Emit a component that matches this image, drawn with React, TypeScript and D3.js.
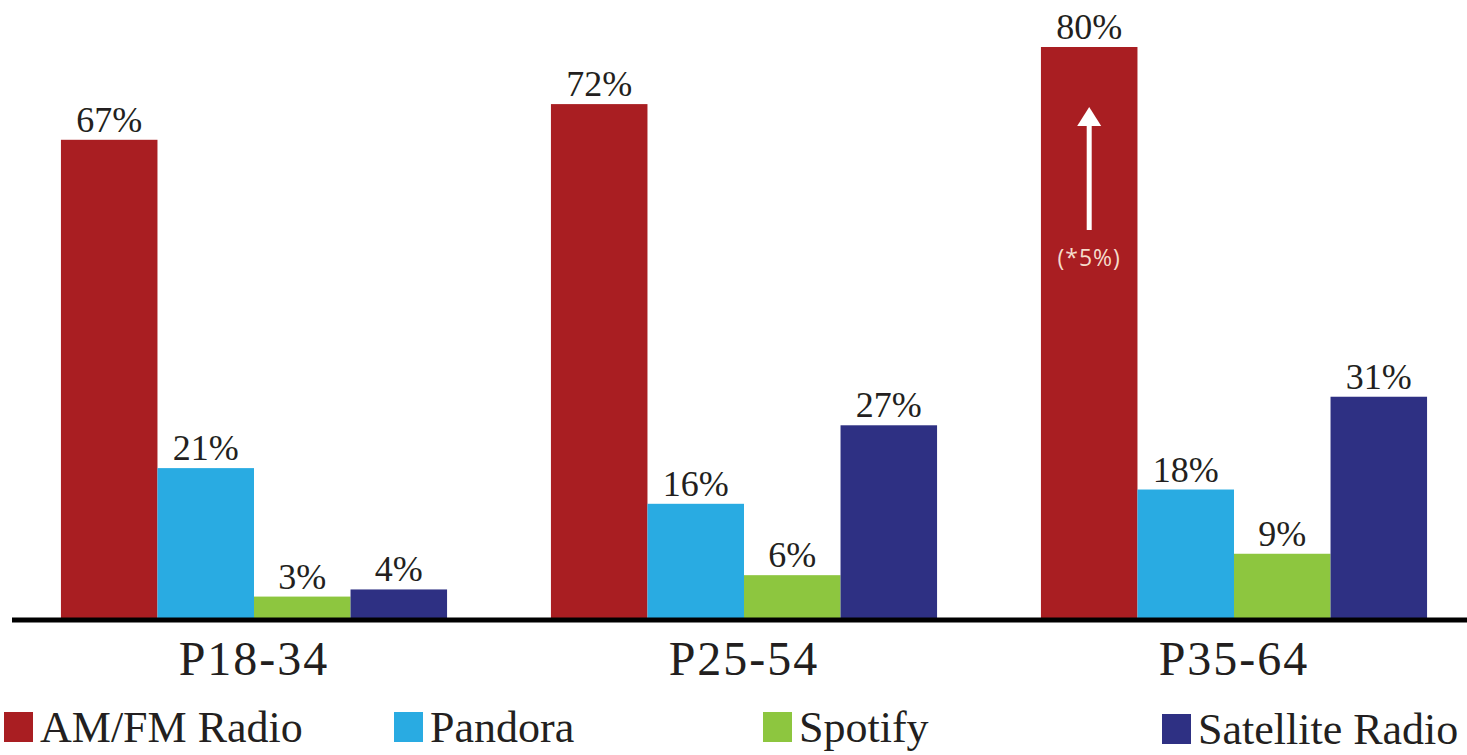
import * as d3 from "d3";
import { FC, useEffect, useRef } from "react";

const WIDTH = 1467;
const HEIGHT = 755;
const BASELINE = 618;

const groups = ["P18-34", "P25-54", "P35-64"];
const series = ["AM/FM Radio", "Pandora", "Spotify", "Satellite Radio"];
const colors = ["#a91e22", "#29abe2", "#8dc63f", "#2e3083"];
const amfm = [67, 72, 80];
const pandora = [21, 16, 18];
const spotify = [3, 6, 9];
const satellite = [4, 27, 31];
const legendX = [4, 394, 763, 1162];
const legendDrop = [0, 0, 0, 2];

const SERIF = "'Liberation Serif', 'DejaVu Serif', serif";

const App: FC = () => {
  const ref = useRef<SVGSVGElement | null>(null);

  useEffect(() => {
    if (!ref.current) return;
    const svg = d3.select(ref.current);
    svg.selectAll("*").remove();

    const values = [amfm, pandora, spotify, satellite];
    const rows = groups.map((g, gi) => ({
      group: g,
      bars: series.map((s, si) => ({ series: s, si, value: values[si][gi] })),
    }));

    const x0 = d3
      .scaleBand<string>()
      .domain(groups)
      .range([9, 1479])
      .paddingInner(0.212)
      .paddingOuter(0.106);
    const x1 = d3
      .scaleBand<string>()
      .domain(series)
      .range([0, x0.bandwidth()]);
    const y = d3.scaleLinear().domain([0, 80]).range([BASELINE, 47]);

    const g = svg
      .selectAll("g.group")
      .data(rows)
      .enter()
      .append("g")
      .attr("class", "group")
      .attr("transform", (d) => `translate(${x0(d.group)}, 0)`);

    const bar = g
      .selectAll("g.bar")
      .data((d) => d.bars)
      .enter()
      .append("g")
      .attr("class", "bar");

    bar
      .append("rect")
      .attr("x", (d) => x1(d.series) || 0)
      .attr("width", x1.bandwidth())
      .attr("y", (d) => y(d.value))
      .attr("height", (d) => BASELINE - y(d.value))
      .attr("fill", (d) => colors[d.si]);

    bar
      .append("text")
      .text((d) => `${d.value}%`)
      .attr("x", (d) => (x1(d.series) || 0) + x1.bandwidth() / 2)
      .attr("y", (d) => y(d.value) - 8)
      .attr("text-anchor", "middle")
      .attr("font-family", SERIF)
      .attr("font-size", 36)
      .attr("fill", "#231f20");

    // arrow annotation inside the tallest bar
    const last = groups[2];
    const ax = (x0(last) || 0) + (x1(series[0]) || 0) + x1.bandwidth() / 2;
    const arrow = svg.append("g").attr("fill", "#fff");
    arrow
      .append("rect")
      .attr("x", ax - 2.5)
      .attr("y", 118)
      .attr("width", 5)
      .attr("height", 112);
    arrow
      .append("path")
      .attr("d", `M${ax},${y(80) + 60} L${ax - 12},${y(80) + 79} L${ax + 12},${y(80) + 79} Z`);
    svg
      .append("text")
      .text("(*5%)")
      .attr("x", ax)
      .attr("y", 266)
      .attr("text-anchor", "middle")
      .attr("font-family", "'Open Sans', sans-serif")
      .attr("font-size", 23)
      .attr("letter-spacing", 1)
      .attr("fill", "#f5dccb");

    // baseline
    svg
      .append("line")
      .attr("x1", 12)
      .attr("x2", WIDTH)
      .attr("y1", BASELINE + 2)
      .attr("y2", BASELINE + 2)
      .attr("stroke", "#000")
      .attr("stroke-width", 5);

    // category labels
    svg
      .selectAll("text.cat")
      .data(groups)
      .enter()
      .append("text")
      .attr("class", "cat")
      .text((d) => d)
      .attr("x", (d) => (x0(d) || 0) + x0.bandwidth() / 2)
      .attr("y", 675)
      .attr("text-anchor", "middle")
      .attr("font-family", SERIF)
      .attr("font-size", 48)
      .attr("letter-spacing", 2)
      .attr("fill", "#231f20");

    // legend
    const leg = svg
      .selectAll("g.legend")
      .data(series)
      .enter()
      .append("g")
      .attr("class", "legend")
      .attr("transform", (_, i) => `translate(${legendX[i]}, ${712 + legendDrop[i]})`);
    leg
      .append("rect")
      .attr("width", 29)
      .attr("height", 30)
      .attr("fill", (_, i) => colors[i]);
    leg
      .append("text")
      .text((d) => d)
      .attr("x", 36)
      .attr("y", 30)
      .attr("font-family", SERIF)
      .attr("font-size", 44)
      .attr("fill", "#231f20");
  }, []);

  return (
    <svg
      ref={ref}
      width={WIDTH}
      height={HEIGHT}
      style={{ position: "absolute", left: 0, top: 0, background: "#fff" }}
    />
  );
};

export default App;
